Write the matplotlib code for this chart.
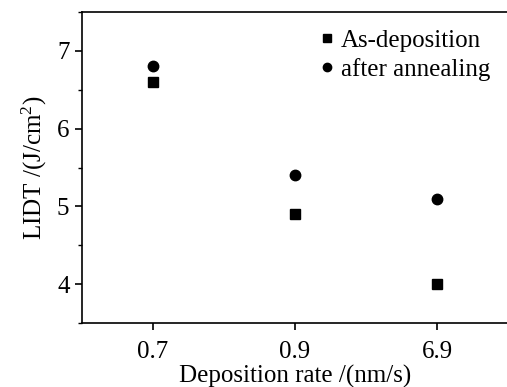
import numpy as np
import matplotlib.pyplot as plt
import matplotlib as mpl
from matplotlib.ticker import MultipleLocator

mpl.rcParams['font.family'] = 'Liberation Serif'
mpl.rcParams['mathtext.fontset'] = 'custom'
mpl.rcParams['mathtext.rm'] = 'Liberation Serif'
mpl.rcParams['mathtext.it'] = 'Liberation Serif:italic'

# data
rates = ['0.7', '0.9', '6.9']
as_dep = [6.6, 4.9, 4.0]
annealed = [6.8, 5.4, 5.1]

x = np.arange(1, len(rates) + 1)

fig = plt.figure(figsize=(5.07, 3.87), dpi=100)
ax = fig.add_axes([82/507, 1 - 323/387, 426/507, 311/387])

ax.plot(x, as_dep, 's', color='black', markersize=7, label='As-deposition')
ax.plot(x, annealed, 'o', color='black', markersize=7.5, label='after annealing')

ax.set_xlim(0.5, 3.5)
ax.set_ylim(3.5, 7.5)
ax.set_xticks(x)
ax.set_xticklabels(rates)
ax.yaxis.set_major_locator(MultipleLocator(1))
ax.yaxis.set_minor_locator(MultipleLocator(0.5))
ax.tick_params(axis='both', which='major', direction='out', length=5, width=1.2, labelsize=18)
ax.tick_params(axis='x', which='major', pad=8)
ax.tick_params(axis='y', which='major', pad=4)
ax.tick_params(axis='y', which='minor', direction='out', length=3, width=1.0)
ax.spines['right'].set_visible(False)
for s in ['left', 'bottom', 'top']:
    ax.spines[s].set_linewidth(1.2)

ax.set_xlabel('Deposition rate /(nm/s)', fontsize=18, labelpad=1)
ax.set_ylabel(r'LIDT /(J/cm$^{2}$)', fontsize=18, labelpad=6)

ax.legend(loc='upper right', bbox_to_anchor=(1.0, 1.0), frameon=False, fontsize=18,
          handletextpad=0.05, handlelength=1.0, labelspacing=0.25, markerscale=0.8,
          borderaxespad=0.3)

plt.savefig('out.png', dpi=100)
